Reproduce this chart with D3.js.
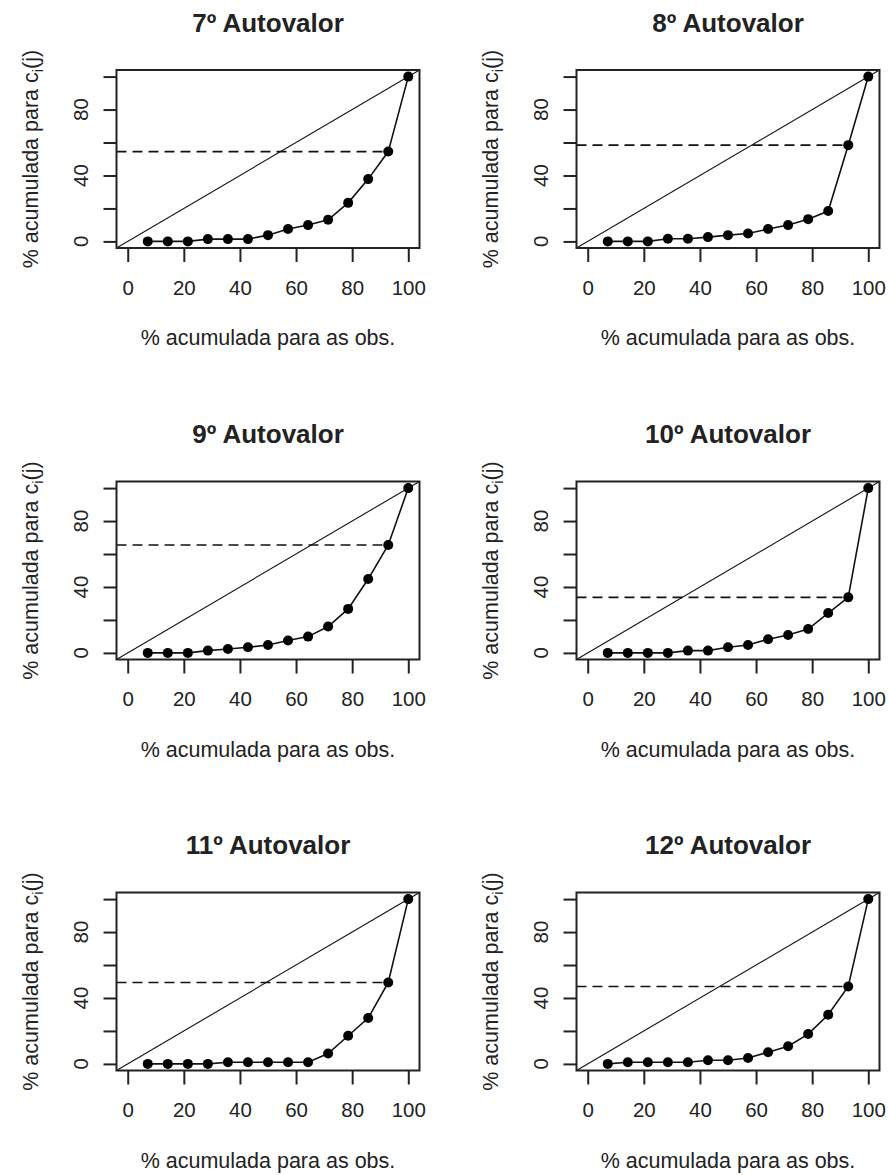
<!DOCTYPE html>
<meta charset="utf-8">
<style>
    body { margin: 0; background: #fff; }
    text { font-family: "Liberation Sans", Arial, sans-serif; fill: #222; }
    .title { font-weight: bold; font-size: 26px; }
    .tick text { font-size: 20.5px; }
    .lab { font-size: 21.5px; }
</style>
<svg width="888" height="1175"></svg>
<script src="https://d3js.org/d3.v7.min.js"></script>
<script>

    var titles = ["7º Autovalor", "8º Autovalor", "9º Autovalor",
                  "10º Autovalor", "11º Autovalor", "12º Autovalor"];

    var xObs = [7.14, 14.29, 21.43, 28.57, 35.71, 42.86, 50, 57.14, 64.29, 71.43, 78.57, 85.71, 92.86, 100];

    var av7  = [0, 0, 0, 1.4, 1.4, 1.4, 3.8, 7.5, 9.9, 13.1, 23.4, 37.8, 54.5, 100];
    var av8  = [0, 0, 0, 1.6, 1.6, 2.6, 3.8, 4.8, 7.5, 9.9, 13.5, 18.4, 58.4, 100];
    var av9  = [0, 0, 0, 1.4, 2.4, 3.4, 4.8, 7.5, 9.9, 16, 26.7, 44.8, 65.5, 100];
    var av10 = [0, 0, 0, 0, 1.4, 1.4, 3.4, 4.8, 8.3, 10.9, 14.5, 24.2, 33.7, 100];
    var av11 = [0, 0, 0, 0, 1, 1, 1, 1, 1, 6.3, 17.1, 27.8, 49.4, 100];
    var av12 = [0, 1, 1, 1, 1, 2.2, 2.2, 3.6, 7.1, 10.7, 18.1, 29.8, 47, 100];

    var series = [av7, av8, av9, av10, av11, av12];
    var ticks = [0, 20, 40, 60, 80, 100];
    var yLabels = [0, 40, 80];

    var svg = d3.select("svg"),
        colX = [0, 460],
        rowY = [0, 411.5, 822.5],
        box = {left: 116.5, top: 70, width: 303, height: 178};

    var x = d3.scaleLinear().domain([-4, 104]).range([0, box.width]),
        y = d3.scaleLinear().domain([-4, 104]).range([box.height, 0]);

    var line = d3.line()
        .x(function(d) { return x(d[0]); })
        .y(function(d) { return y(d[1]); });

    series.forEach(function(vals, k) {
        var ox = colX[k % 2] + box.left,
            oy = rowY[Math.floor(k / 2)] + box.top;

        var g = svg.append("g")
            .attr("transform", "translate(" + ox + "," + oy + ")");

        var pts = xObs.map(function(v, i) { return [v, vals[i]]; });

        g.append("defs").append("clipPath")
            .attr("id", "clip" + k)
            .append("rect")
            .attr("width", box.width).attr("height", box.height);

        var plot = g.append("g").attr("clip-path", "url(#clip" + k + ")");

        // diagonal y = x
        plot.append("line")
            .attr("x1", x(-4)).attr("y1", y(-4))
            .attr("x2", x(104)).attr("y2", y(104))
            .attr("stroke", "#111").attr("stroke-width", 1.1);

        // dashed reference at the 13th point
        plot.append("line")
            .attr("x1", x(-4)).attr("y1", y(vals[12]))
            .attr("x2", x(xObs[12])).attr("y2", y(vals[12]))
            .attr("stroke", "#111").attr("stroke-width", 1.6)
            .attr("stroke-dasharray", "10,6");

        plot.append("path")
            .datum(pts)
            .attr("d", line)
            .attr("fill", "none")
            .attr("stroke", "#111")
            .attr("stroke-width", 1.6);

        plot.selectAll("circle")
            .data(pts)
            .enter().append("circle")
            .attr("cx", function(d) { return x(d[0]); })
            .attr("cy", function(d) { return y(d[1]); })
            .attr("r", 5)
            .attr("fill", "#000");

        g.append("rect")
            .attr("width", box.width).attr("height", box.height)
            .attr("fill", "none").attr("stroke", "#222").attr("stroke-width", 2);

        var xa = g.append("g")
            .attr("transform", "translate(0," + box.height + ")")
            .call(d3.axisBottom(x).tickValues(ticks).tickSize(14).tickPadding(18).tickFormat(d3.format("d")));
        xa.select(".domain").remove();
        xa.selectAll("line").attr("stroke", "#222").attr("stroke-width", 2);

        var ya = g.append("g")
            .call(d3.axisLeft(y).tickValues(ticks).tickSize(13).tickFormat(""));
        ya.select(".domain").remove();
        ya.selectAll("line").attr("stroke", "#222").attr("stroke-width", 2);

        g.selectAll(".ylab")
            .data(yLabels)
            .enter().append("text")
            .attr("class", "ylab")
            .attr("transform", function(d) { return "translate(-29," + y(d) + ") rotate(-90)"; })
            .attr("text-anchor", "middle")
            .attr("font-size", "20.5px")
            .text(function(d) { return d; });

        g.append("text")
            .attr("class", "title")
            .attr("x", box.width / 2).attr("y", -38.5)
            .attr("text-anchor", "middle")
            .text(titles[k]);

        g.append("text")
            .attr("class", "lab")
            .attr("x", box.width / 2).attr("y", box.height + 97)
            .attr("text-anchor", "middle")
            .text("% acumulada para as obs.");

        var yt = g.append("text")
            .attr("class", "lab")
            .attr("transform", "translate(-79," + (box.height / 2) + ") rotate(-90)")
            .attr("text-anchor", "middle");
        yt.append("tspan").text("% acumulada para c");
        yt.append("tspan").attr("font-size", "15px").attr("dy", 5).text("i");
        yt.append("tspan").attr("dy", -5).text("(j)");
    });
</script>
